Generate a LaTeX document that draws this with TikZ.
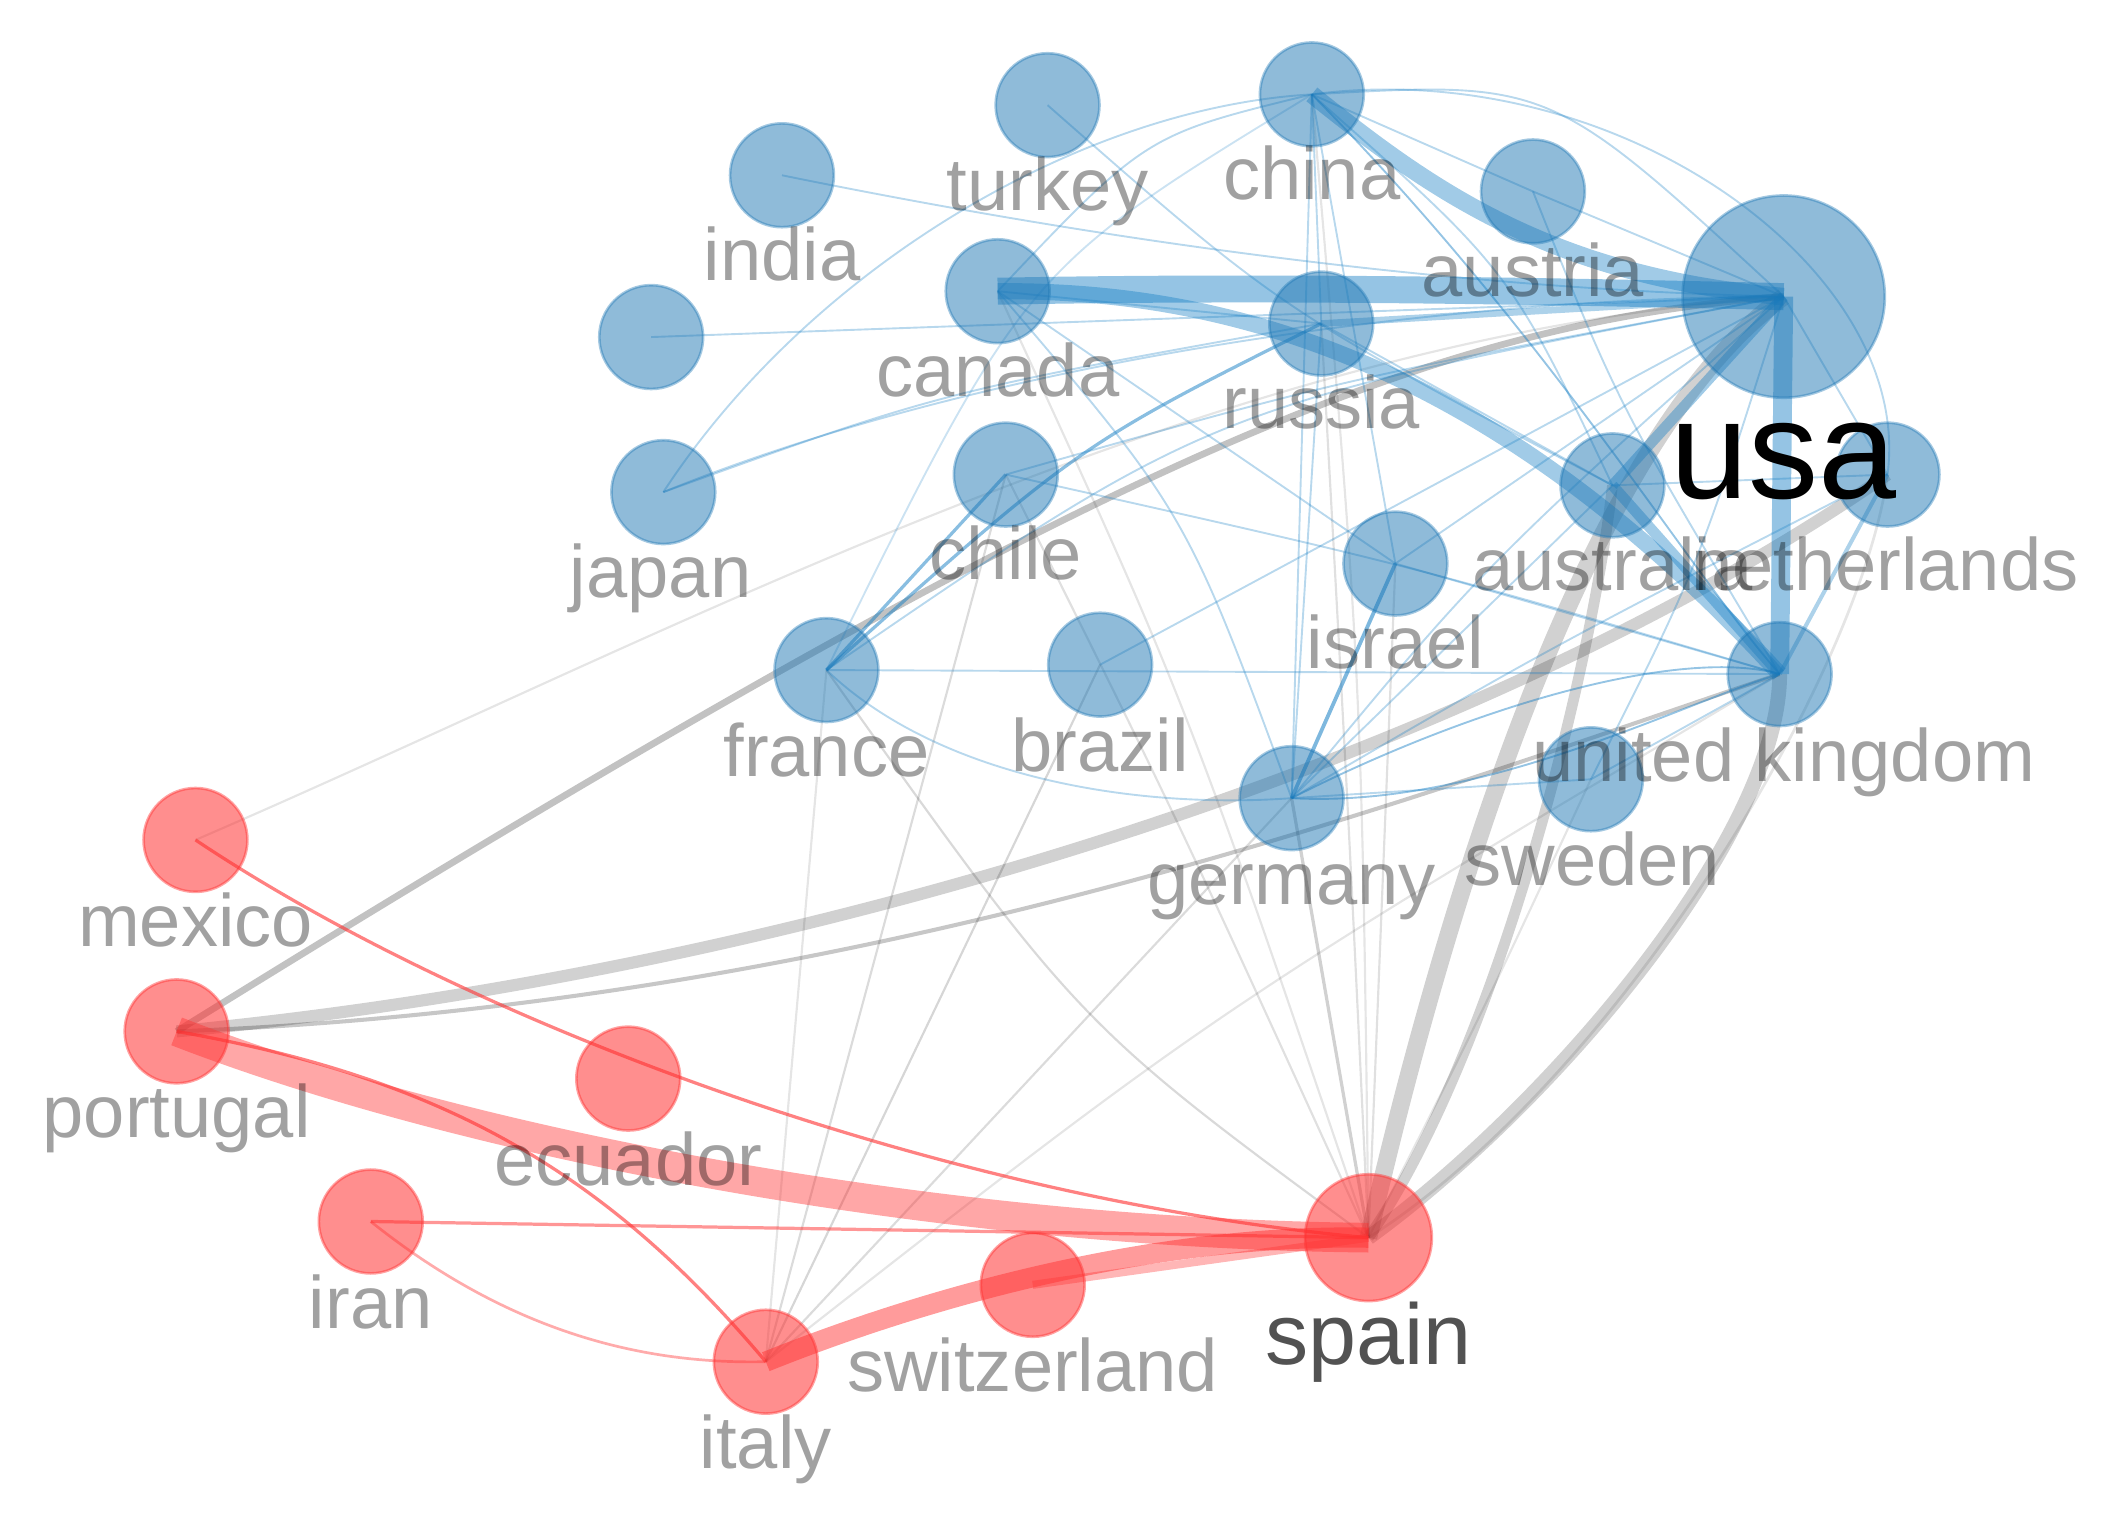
\documentclass[tikz,border=0pt]{standalone}
\usepackage{fontspec}
\setmainfont{Liberation Sans}
\pgfdeclarelayer{edgelayer}
\pgfsetlayers{edgelayer,main}
\definecolor{bluec}{RGB}{31,119,180}
\definecolor{bedge}{RGB}{20,125,195}
\definecolor{redc}{RGB}{255,50,50}
\definecolor{redge}{RGB}{255,45,45}
\tikzset{
  bnode/.style={circle, inner sep=0pt, minimum size=38.5pt, fill=bluec, fill opacity=0.5, draw=bluec, draw opacity=0.4, line width=1pt},
  rnode/.style={circle, inner sep=0pt, minimum size=38.5pt, fill=redc, fill opacity=0.55, draw=redc, draw opacity=0.45, line width=1pt},
  lab/.style={anchor=base, inner sep=0pt, font=\fontsize{27.5}{30}\selectfont, text=black, text opacity=0.37},
  bedg/.style={draw=bedge, draw opacity=0.3, line width=0.7pt},
  bthick/.style={draw=bedge, draw opacity=0.45, line cap=butt},
  gedg/.style={draw=black, draw opacity=0.16, line width=0.8pt},
  redg/.style={draw=redge, draw opacity=0.5, line width=1.2pt}
}
\begin{document}
\begin{tikzpicture}[x=0.5pt,y=-0.5pt]
\useasboundingbox (0,0) rectangle (1568,1135);
% ---------- nodes ----------
\node[bnode] (china) at (973,70) {};
\node[bnode] (turkey) at (777,78) {};
\node[bnode] (india) at (580,130) {};
\node[bnode] (austria) at (1137,142) {};
\node[bnode, minimum size=75pt] (usa) at (1323,220) {};
\node[bnode] (canada) at (740,216) {};
\node[bnode] (russia) at (980,240) {};
\node[bnode] (blank) at (483,250) {};
\node[bnode] (japan) at (492,365) {};
\node[bnode] (chile) at (746,352) {};
\node[bnode] (australia) at (1196,360) {};
\node[bnode] (netherlands) at (1400,352) {};
\node[bnode] (israel) at (1035,418) {};
\node[bnode] (france) at (613,497) {};
\node[bnode] (brazil) at (816,493) {};
\node[bnode] (uk) at (1320,500) {};
\node[bnode] (sweden) at (1180,578) {};
\node[bnode] (germany) at (958,592) {};
\node[rnode] (mexico) at (145,623) {};
\node[rnode] (portugal) at (131,765) {};
\node[rnode] (ecuador) at (466,800) {};
\node[rnode] (iran) at (275,906) {};
\node[rnode, minimum size=47pt] (spain) at (1015,918) {};
\node[rnode] (switzerland) at (766,953) {};
\node[rnode] (italy) at (568,1010) {};
% ---------- edges ----------
\begin{pgfonlayer}{edgelayer}
% gray (between clusters)
\draw[gedg, draw opacity=0.24, line width=2.5pt] (portugal.center) .. controls (800,350) and (1050,240) .. (usa.center);
\draw[gedg, draw opacity=0.18, line width=4.5pt] (portugal.center) .. controls (600,720) and (1100,560) .. (netherlands.center);
\draw[gedg, draw opacity=0.22, line width=1.5pt] (portugal.center) .. controls (650,745) and (1050,590) .. (uk.center);
\draw[gedg, draw opacity=0.1] (mexico.center) .. controls (500,470) and (900,250) .. (usa.center);
\draw[gedg, draw opacity=0.18, line width=6.5pt] (spain.center) .. controls (1065,700) and (1170,330) .. (usa.center);
\draw[gedg, draw opacity=0.18, line width=4pt] (spain.center) .. controls (1110,780) and (1180,500) .. (australia.center);
\draw[gedg, draw opacity=0.18, line width=5.5pt] (spain.center) .. controls (1150,820) and (1320,620) .. (uk.center);
\draw[gedg, draw opacity=0.1, line width=1pt] (spain.center) .. controls (1200,800) and (1380,500) .. (netherlands.center);
\draw[gedg, draw opacity=0.18, line width=1.2pt] (spain.center) -- (germany.center);
\draw[gedg, draw opacity=0.12] (spain.center) -- (israel.center);
\draw[gedg, draw opacity=0.12] (spain.center) .. controls (1000,600) .. (russia.center);
\draw[gedg, draw opacity=0.1] (spain.center) .. controls (1010,500) .. (china.center);
\draw[gedg, draw opacity=0.15] (spain.center) .. controls (800,760) .. (france.center);
\draw[gedg, draw opacity=0.12] (spain.center) .. controls (870,600) .. (chile.center);
\draw[gedg, draw opacity=0.1] (spain.center) .. controls (880,520) .. (canada.center);
\draw[gedg, draw opacity=0.1] (spain.center) .. controls (1100,750) .. (sweden.center);
\draw[gedg, draw opacity=0.1] (italy.center) -- (france.center);
\draw[gedg, draw opacity=0.14] (italy.center) -- (chile.center);
\draw[gedg, draw opacity=0.16] (italy.center) -- (brazil.center);
\draw[gedg, draw opacity=0.14] (italy.center) -- (germany.center);
\draw[gedg, draw opacity=0.1] (italy.center) .. controls (900,750) .. (uk.center);
% blue thick
\draw[bthick, line width=10pt] (canada.center) .. controls (950,212) and (1150,216) .. (usa.center);
\draw[bthick, draw opacity=0.4, line width=6pt] (canada.center) .. controls (900,215) and (1100,260) .. (uk.center);
\draw[bthick, draw opacity=0.4, line width=6.5pt] (china.center) .. controls (1060,140) and (1150,205) .. (usa.center);
\draw[bthick, line width=7pt] (usa.center) -- (uk.center);
\draw[bthick, draw opacity=0.4, line width=4pt] (australia.center) -- (usa.center);
\draw[bthick, draw opacity=0.4, line width=4pt] (australia.center) -- (uk.center);
\draw[bthick, draw opacity=0.35, line width=2.5pt] (russia.center) -- (usa.center);
\draw[bthick, draw opacity=0.35, line width=1.5pt] (netherlands.center) -- (uk.center);
% blue thin
\draw[bedg] (india.center) .. controls (850,185) and (1100,215) .. (usa.center);
\draw[bedg] (turkey.center) .. controls (950,230) .. (australia.center);
\draw[bedg] (blank.center) -- (usa.center);
\draw[bedg] (japan.center) .. controls (600,200) and (800,80) .. (china.center);
\draw[bedg] (japan.center) .. controls (750,260) and (1100,220) .. (usa.center);
\draw[bedg] (japan.center) .. controls (700,290) .. (russia.center);
\draw[bedg] (china.center) -- (russia.center);
\draw[bedg] (china.center) -- (germany.center);
\draw[bedg] (china.center) -- (israel.center);
\draw[bedg] (china.center) .. controls (1120,200) .. (australia.center);
\draw[bedg, draw opacity=0.45] (china.center) .. controls (1150,250) and (1250,420) .. (uk.center);
\draw[bedg] (china.center) .. controls (1200,40) and (1420,200) .. (netherlands.center);
\draw[bedg] (china.center) .. controls (1150,60) .. (usa.center);
\draw[bedg] (china.center) .. controls (850,100) .. (canada.center);
\draw[bedg, draw opacity=0.22] (china.center) .. controls (760,200) .. (france.center);
\draw[bedg] (austria.center) -- (usa.center);
\draw[bedg] (austria.center) -- (china.center);
\draw[bedg] (austria.center) .. controls (1200,300) .. (uk.center);
\draw[bedg] (russia.center) -- (germany.center);
\draw[bedg] (russia.center) -- (australia.center);
\draw[bedg] (chile.center) .. controls (1000,280) .. (usa.center);
\draw[bedg, draw opacity=0.5, line width=1.2pt] (chile.center) -- (france.center);
\draw[bedg, draw opacity=0.5, line width=1.2pt] (france.center) .. controls (800,330) .. (russia.center);
\draw[bedg] (france.center) -- (uk.center);
\draw[bedg] (france.center) .. controls (700,580) and (850,600) .. (germany.center);
\draw[bedg] (france.center) .. controls (900,300) .. (usa.center);
\draw[bedg, draw opacity=0.45] (germany.center) .. controls (1100,600) and (1250,520) .. (uk.center);
\draw[bedg, draw opacity=0.45] (germany.center) .. controls (1100,520) and (1250,480) .. (uk.center);
\draw[bedg] (germany.center) .. controls (1150,480) .. (netherlands.center);
\draw[bedg, draw opacity=0.55, line width=1.4pt] (germany.center) -- (israel.center);
\draw[bedg] (germany.center) .. controls (1100,420) .. (usa.center);
\draw[bedg] (germany.center) -- (australia.center);
\draw[bedg] (germany.center) -- (sweden.center);
\draw[bedg] (israel.center) -- (uk.center);
\draw[bedg] (israel.center) -- (usa.center);
\draw[bedg] (sweden.center) -- (uk.center);
\draw[bedg] (sweden.center) .. controls (1260,420) .. (usa.center);
\draw[bedg] (brazil.center) -- (usa.center);
\draw[bedg] (canada.center) .. controls (880,380) .. (germany.center);
\draw[bedg] (canada.center) -- (israel.center);
\draw[bedg] (netherlands.center) -- (usa.center);
\draw[bedg] (netherlands.center) -- (australia.center);
\draw[bedg] (chile.center) .. controls (1050,420) .. (uk.center);
\draw[bedg] (canada.center) -- (russia.center);
% red
\draw[redg, draw opacity=0.42, line width=11pt, line cap=butt] (portugal.center) .. controls (350,850) and (700,915) .. (spain.center);
\draw[redg, draw opacity=0.48, line width=7.5pt, line cap=butt] (italy.center) .. controls (680,965) and (850,915) .. (spain.center);
\draw[redg, draw opacity=0.35, line width=3pt] (switzerland.center) -- (spain.center);
\draw[redg, draw opacity=0.6] (mexico.center) .. controls (350,760) and (700,890) .. (spain.center);
\draw[redg, draw opacity=0.6] (portugal.center) .. controls (330,800) and (450,870) .. (italy.center);
\draw[redg] (iran.center) -- (spain.center);
\draw[redg, draw opacity=0.4, line width=1pt] (iran.center) .. controls (380,990) and (480,1012) .. (italy.center);
\end{pgfonlayer}
% ---------- labels ----------
\node[lab] (l-china) at (973,148) {china};
\node[lab] (l-turkey) at (777,156) {turkey};
\node[lab] (l-india) at (580,208) {india};
\node[lab] (l-austria) at (1137,220) {austria};
\node[lab] (l-canada) at (740,294) {canada};
\node[lab] (l-russia) at (980,318) {russia};
\node[lab] (l-japan) at (490,443) {japan};
\node[lab] (l-chile) at (746,430) {chile};
\node[lab] (l-australia) at (1196,438) {australia};
\node[lab] (l-netherlands) at (1398,438) {netherlands};
\node[lab] (l-israel) at (1035,496) {israel};
\node[lab] (l-france) at (613,576) {france};
\node[lab] (l-brazil) at (816,572) {brazil};
\node[lab] (l-uk) at (1323,580) {united kingdom};
\node[lab] (l-sweden) at (1181,657) {sweden};
\node[lab] (l-germany) at (958,671) {germany};
\node[lab] (l-mexico) at (145,702) {mexico};
\node[lab] (l-portugal) at (131,844) {portugal};
\node[lab] (l-ecuador) at (466,879) {ecuador};
\node[lab] (l-iran) at (275,985) {iran};
\node[lab] (l-switzerland) at (766,1032) {switzerland};
\node[lab] (l-italy) at (568,1089) {italy};
\node[lab, font=\fontsize{32}{36}\selectfont, text opacity=0.68] (l-spain) at (1015,1012) {spain};
\node[lab, font=\fontsize{52}{56}\selectfont, text opacity=1] (l-usa) at (1323,370) {usa};
\end{tikzpicture}
\end{document}
